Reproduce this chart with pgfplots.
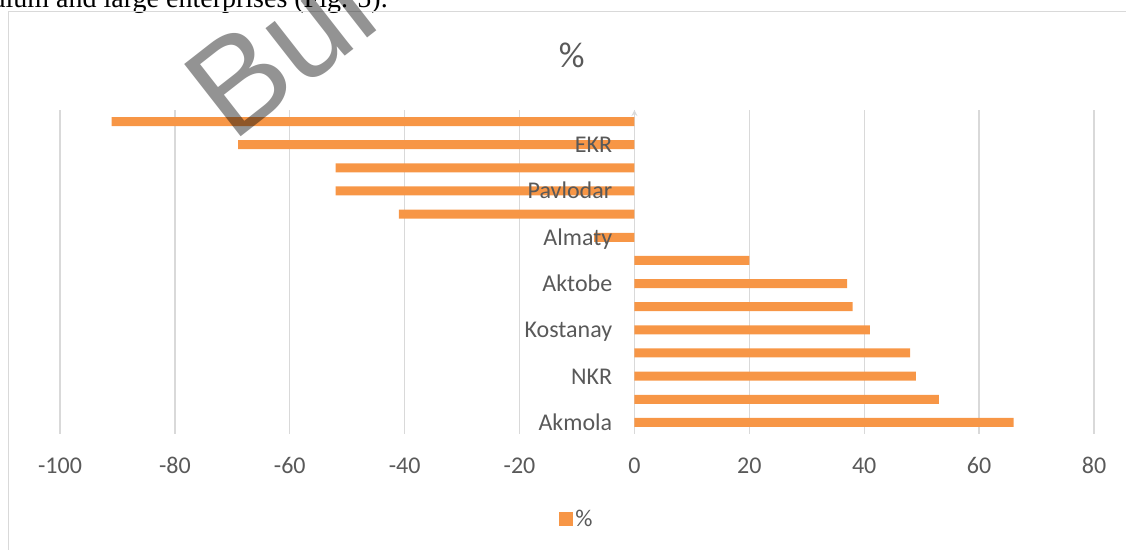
\documentclass[border=0pt]{standalone}
\usepackage{pgfplots}
\pgfplotsset{compat=1.18}
\usepackage{fontspec}
\setmainfont{Carlito}
\newfontfamily\serif{Liberation Serif}
\newfontfamily\wmfont{Liberation Sans}
\definecolor{barorange}{HTML}{F79646}
\definecolor{gridgray}{HTML}{D9D9D9}
\definecolor{textgray}{HTML}{595959}
\definecolor{wmgray}{HTML}{939393}

\pgfplotsset{
  regionaxis/.style={
    at={(45pt,86.25pt)}, anchor=south west,
    scale only axis, width=775.5pt, height=243pt,
    xmin=-100, xmax=80, ymin=-0.5, ymax=13.5,
    enlargelimits=false,
    major tick length=0pt,
    axis line style={-},
    /pgf/number format/assume math mode=true,
  },
}

\begin{document}
\begin{tikzpicture}
\useasboundingbox (0,0) rectangle (844.5pt,411.75pt);
% line of the page text, cut off at the top
\node[anchor=base east, inner sep=0pt, font=\serif\fontsize{21}{25}\selectfont] at (291pt,405.75pt) {dium and large enterprises (Fig. 5).};
% chart area frame
\draw[gridgray, line width=0.75pt] (6pt,-2pt) -- (6pt,402.75pt) -- (850pt,402.75pt);
\begin{axis}[
  regionaxis,
  xbar, bar width=6.75pt,
  xtick={-100,-80,...,80},
  ytick=\empty,
  axis x line=bottom, axis y line=middle,
  x axis line style={draw=none},
  y axis line style={gridgray, line width=1pt},
  hide obscured x ticks=false,
  xmajorgrids, grid style={gridgray, line width=1pt},
  xticklabel style={anchor=base, inner sep=0pt, yshift=-30pt, font=\fontsize{18}{22}\selectfont, text=textgray},
  title=\%,
  title style={at={(0.5,1)}, anchor=center, xshift=-4pt, yshift=35.25pt, font=\fontsize{27}{32}\selectfont, text=textgray},
  legend style={at={(0.5,0)}, anchor=center, yshift=-63.75pt, draw=none, fill=none, font=\fontsize{18}{22}\selectfont, text=textgray},
  legend image code/.code={\fill[barorange] (-3pt,-5.25pt) rectangle (7.5pt,5.25pt);},
]
\addplot[fill=barorange, draw=none] coordinates {
  (66,0) (53,1) (49,2) (48,3) (41,4) (38,5) (37,6) (20,7)
  (-7,8) (-41,9) (-52,10) (-52,11) (-69,12) (-91,13)};
\addlegendentry{\%}
\end{axis}
% second, empty axis: the category names, written over the bars
\begin{axis}[
  regionaxis,
  xtick=\empty,
  ytick={0,2,...,12},
  yticklabels={Akmola,NKR,Kostanay,Aktobe,Almaty,Pavlodar,EKR},
  axis x line=bottom, axis y line=middle,
  axis line style={draw=none},
  hide obscured y ticks=false,
  yticklabel style={anchor=base east, inner sep=0pt, xshift=-16.5pt, yshift=-6pt, font=\fontsize{18}{22}\selectfont, text=textgray},
]
\end{axis}
% watermark over the chart
\begin{scope}[blend mode=multiply]
\node[rotate=38, anchor=base west, inner sep=0pt, font=\wmfont\fontsize{100}{110}\selectfont, text=wmgray] at (174pt,303.75pt) {Bul};
\end{scope}
\end{tikzpicture}
\end{document}
